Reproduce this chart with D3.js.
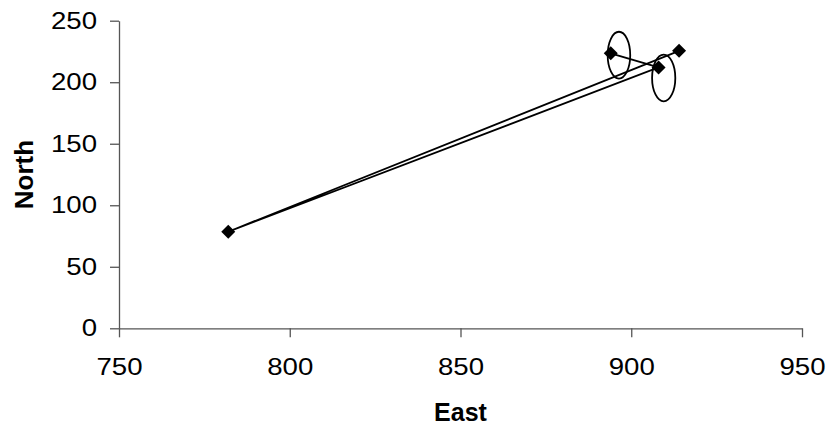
<html>
  <head>
    <meta charset="utf-8">
    <title>North vs East</title>
  </head>
<style>
  body { margin: 0; background: #fff; }
  text { font-family: "Liberation Sans", Arial, sans-serif; }
</style>
  <body>
    <script src="https://d3js.org/d3.v7.min.js"></script>
    <script>

    var width = 829,
        height = 429;

    // series, in drawing order
    var east  = [894, 908, 782, 914];
    var north = [223.5, 212, 78.5, 225.5];

    // the two ellipses
    var ellEast  = [896.4, 909.5];
    var ellNorth = [222, 203.5];
    var ellRx    = [3.3, 3.4];
    var ellRy    = [19, 19];

    var xTicks = [750, 800, 850, 900, 950];
    var yTicks = [0, 50, 100, 150, 200, 250];

    var margin = {left: 119, right: 27, top: 20.7, bottom: 100.7};
    var stretch = 1.15; // the labels in the picture are a bit wide

    var svg = d3.select("body")
                .append("svg")
                .attr("width", width)
                .attr("height", height);

    var x = d3.scaleLinear().domain([750, 950]).range([margin.left, width - margin.right]);
    var y = d3.scaleLinear().domain([0, 250]).range([height - margin.bottom, margin.top]);

    var xAxis = svg.append("g")
        .attr("transform", "translate(0," + y(0) + ")")
        .call(d3.axisBottom(x).tickValues(xTicks).tickSize(9).tickSizeOuter(0).tickPadding(21));

    var yAxis = svg.append("g")
        .attr("transform", "translate(" + x(750) + ",0)")
        .call(d3.axisLeft(y).tickValues(yTicks).tickSize(9).tickSizeOuter(0).tickPadding(13));

    [xAxis, yAxis].forEach(function(g){
        g.selectAll("path, line").attr("stroke", "#555").attr("stroke-width", 1.3);
        g.selectAll("text").attr("font-size", 24).attr("fill", "#000")
         .attr("font-family", "'Liberation Sans', Arial, sans-serif");
    });

    // widen the tick labels without moving them
    xAxis.selectAll("text").attr("transform", "scale(" + stretch + ",1)");
    yAxis.selectAll("text")
         .attr("x", -22 / stretch)
         .attr("transform", "scale(" + stretch + ",1)");

    svg.append("text")
       .attr("x", x(850)).attr("y", 421)
       .attr("text-anchor", "middle")
       .attr("font-size", 25).attr("font-weight", "bold")
       .text("East");

    svg.append("text")
       .attr("transform", "translate(33," + y(125) + ") rotate(-90)")
       .attr("text-anchor", "middle")
       .attr("font-size", 26).attr("font-weight", "bold")
       .text("North");

    var pts = east.map(function(e, i){ return {e: e, n: north[i]}; });

    var line = d3.line()
        .x(function(d){ return x(d.e); })
        .y(function(d){ return y(d.n); });

    svg.append("path")
       .datum(pts)
       .attr("d", line)
       .attr("fill", "none")
       .attr("stroke", "#000")
       .attr("stroke-width", 1.8);

    var ell = ellEast.map(function(e, i){
        return {e: e, n: ellNorth[i], rx: ellRx[i], ry: ellRy[i]};
    });

    svg.selectAll("ellipse").data(ell)
       .enter().append("ellipse")
       .attr("cx", function(d){ return x(d.e); })
       .attr("cy", function(d){ return y(d.n); })
       .attr("rx", function(d){ return x(d.e + d.rx) - x(d.e); })
       .attr("ry", function(d){ return y(d.n) - y(d.n + d.ry); })
       .attr("fill", "none")
       .attr("stroke", "#000")
       .attr("stroke-width", 1.8);

    svg.selectAll(".pt").data(pts)
       .enter().append("path")
       .attr("class", "pt")
       .attr("d", d3.symbol().type(d3.symbolSquare).size(98))
       .attr("transform", function(d){ return "translate(" + x(d.e) + "," + y(d.n) + ") rotate(45)"; })
       .attr("fill", "#000");

    </script>
  </body>
</html>
